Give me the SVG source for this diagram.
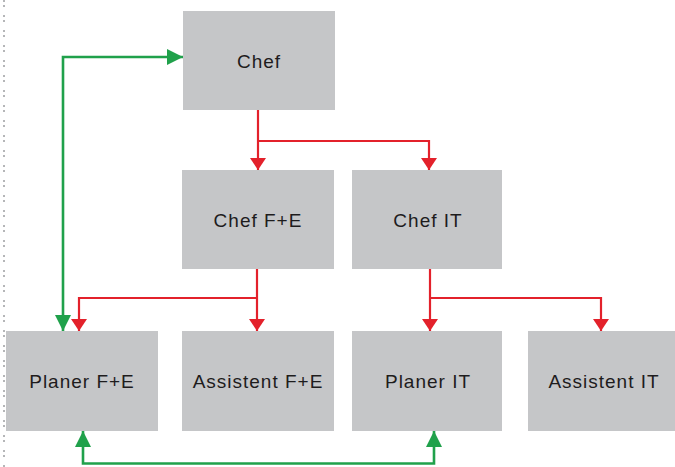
<svg xmlns="http://www.w3.org/2000/svg" width="675" height="467" viewBox="0 0 675 467">
<style>
.box{fill:#c5c6c8}
.lbl{font-family:"Liberation Sans",Arial,sans-serif;font-size:19px;fill:#1e1c1d;text-anchor:middle;letter-spacing:1px}
.red{fill:none;stroke:#e3212b;stroke-width:2.2}
.green{fill:none;stroke:#20a14b;stroke-width:2.6}
</style>
<defs>
<marker id="ar" viewBox="0 0 12 16" refX="12" refY="8" markerWidth="12" markerHeight="16" markerUnits="userSpaceOnUse" orient="auto"><path d="M0,0 L12,8 L0,16 Z" fill="#e3212b"/></marker>
<marker id="ag" viewBox="0 0 16 16" refX="16" refY="8" markerWidth="16" markerHeight="16" markerUnits="userSpaceOnUse" orient="auto"><path d="M0,0 L16,8 L0,16 Z" fill="#20a14b"/></marker>
<marker id="agS" viewBox="0 0 16 16" refX="16" refY="8" markerWidth="16" markerHeight="16" markerUnits="userSpaceOnUse" orient="auto-start-reverse"><path d="M0,0 L16,8 L0,16 Z" fill="#20a14b"/></marker>
</defs>
<line x1="4" y1="0" x2="4" y2="467" stroke="#b5b6b8" stroke-width="2" stroke-dasharray="2 3 2 8"/>
<g id="chef"><rect class="box" x="183" y="11" width="152" height="99"/><text class="lbl" x="259" y="68">Chef</text></g>
<g id="chef-fe"><rect class="box" x="182" y="170" width="152" height="99"/><text class="lbl" x="258" y="227">Chef F+E</text></g>
<g id="chef-it"><rect class="box" x="352" y="170" width="150" height="99"/><text class="lbl" x="428" y="227">Chef IT</text></g>
<g id="planer-fe"><rect class="box" x="6" y="331" width="152" height="100"/><text class="lbl" x="82" y="388">Planer F+E</text></g>
<g id="assistent-fe"><rect class="box" x="182" y="331" width="152" height="100"/><text class="lbl" x="258" y="388">Assistent F+E</text></g>
<g id="planer-it"><rect class="box" x="352" y="331" width="150" height="100"/><text class="lbl" x="428" y="388">Planer IT</text></g>
<g id="assistent-it"><rect class="box" x="528" y="331" width="152" height="100"/><text class="lbl" x="604" y="388">Assistent IT</text></g>
<g id="connectors">
<path class="red" d="M258,110 V170" marker-end="url(#ar)"/>
<path class="red" d="M258,141 H429 V170" marker-end="url(#ar)"/>
<path class="red" d="M257,269 V331" marker-end="url(#ar)"/>
<path class="red" d="M257,298 H79 V331" marker-end="url(#ar)"/>
<path class="red" d="M430,269 V331" marker-end="url(#ar)"/>
<path class="red" d="M430,298 H601 V331" marker-end="url(#ar)"/>
<path class="green" d="M63,331 V57 H183" marker-start="url(#agS)" marker-end="url(#ag)"/>
<path class="green" d="M83,431 V463.5 H434 V431" marker-start="url(#agS)" marker-end="url(#ag)"/>
</g>
</svg>
